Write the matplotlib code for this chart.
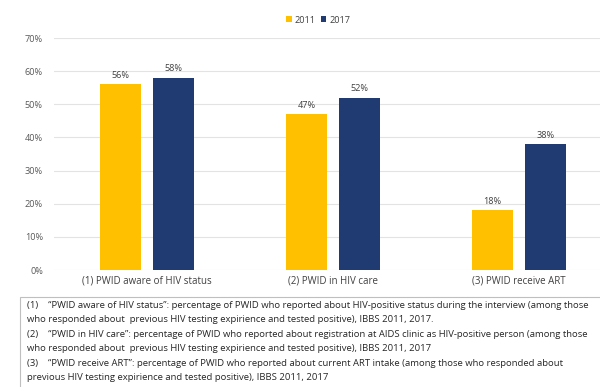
import matplotlib
matplotlib.use("Agg")
import matplotlib.pyplot as plt
from matplotlib.patches import Rectangle
import numpy as np

categories = ["(1) PWID aware of HIV status", "(2) PWID in HIV care", "(3) PWID receive ART"]
years = ["2011", "2017"]
values_2011 = [56, 47, 18]
values_2017 = [58, 52, 38]
yticks = [0, 10, 20, 30, 40, 50, 60, 70]

footnotes = [
    "(1)    \u201cPWID aware of HIV status\u201d: percentage of PWID who reported about HIV-positive status during the interview (among those",
    "who responded about  previous HIV testing expirience and tested positive), IBBS 2011, 2017.",
    "(2)    \u201cPWID in HIV care\u201d: percentage of PWID who reported about registration at AIDS clinic as HIV-positive person (among those",
    "who responded about  previous HIV testing expirience and tested positive), IBBS 2011, 2017",
    "(3)    \u201cPWID receive ART\u201d: percentage of PWID who reported about current ART intake (among those who responded about",
    "previous HIV testing expirience and tested positive), IBBS 2011, 2017",
]

colors = {"2011": "#FFC000", "2017": "#203A72"}
plt.rcParams["font.family"] = ["Open Sans", "DejaVu Sans"]

fig = plt.figure(figsize=(6.0, 3.87), dpi=100)
ax = fig.add_axes([0.09, 0.3023, 0.93, 0.5995])

x = np.arange(len(categories))
width = 0.22
offset = 0.143
b1 = ax.bar(x - offset, values_2011, width, color=colors["2011"], label="2011", zorder=3)
b2 = ax.bar(x + offset, values_2017, width, color=colors["2017"], label="2017", zorder=3)

for bars, vals in ((b1, values_2011), (b2, values_2017)):
    for rect, v in zip(bars, vals):
        ax.text(rect.get_x() + rect.get_width() / 2, v + 1.3, f"{v}%",
                ha="center", va="bottom", fontsize=6.6, color="#404040")

ax.set_xlim(-0.5, len(categories) - 0.5)
ax.set_ylim(0, 70)
ax.set_yticks(yticks)
ax.set_yticklabels([f"{t}%" for t in yticks], fontsize=6.6, color="#595959")
ax.set_xticks(x)
ax.set_xticklabels(categories, fontsize=7, color="#404040")
ax.tick_params(axis="both", length=0, pad=4)
ax.tick_params(axis="y", pad=8)
ax.grid(axis="y", color="#E3E3E3", linewidth=0.8, zorder=0)
for s in ax.spines.values():
    s.set_visible(False)

fig.legend(handles=[b1, b2], labels=years, loc="center", bbox_to_anchor=(0.530, 0.948),
           ncol=2, frameon=False, fontsize=6.6, handlelength=0.6, handleheight=0.6,
           handletextpad=0.3, columnspacing=0.6, labelcolor="#404040")

# footnote box
fig.patches.append(Rectangle((20 / 600, -0.01), 0.99, (387 - 297) / 387 + 0.01,
                             transform=fig.transFigure, fill=False,
                             edgecolor="#BFBFBF", linewidth=0.8))
y0 = 1 - 305 / 387
dy = 14.6 / 387
for i, line in enumerate(footnotes):
    fig.text(27 / 600, y0 - i * dy, line, fontsize=6.8, color="#262626",
             ha="left", va="center")

fig.savefig("out.png", dpi=100)
